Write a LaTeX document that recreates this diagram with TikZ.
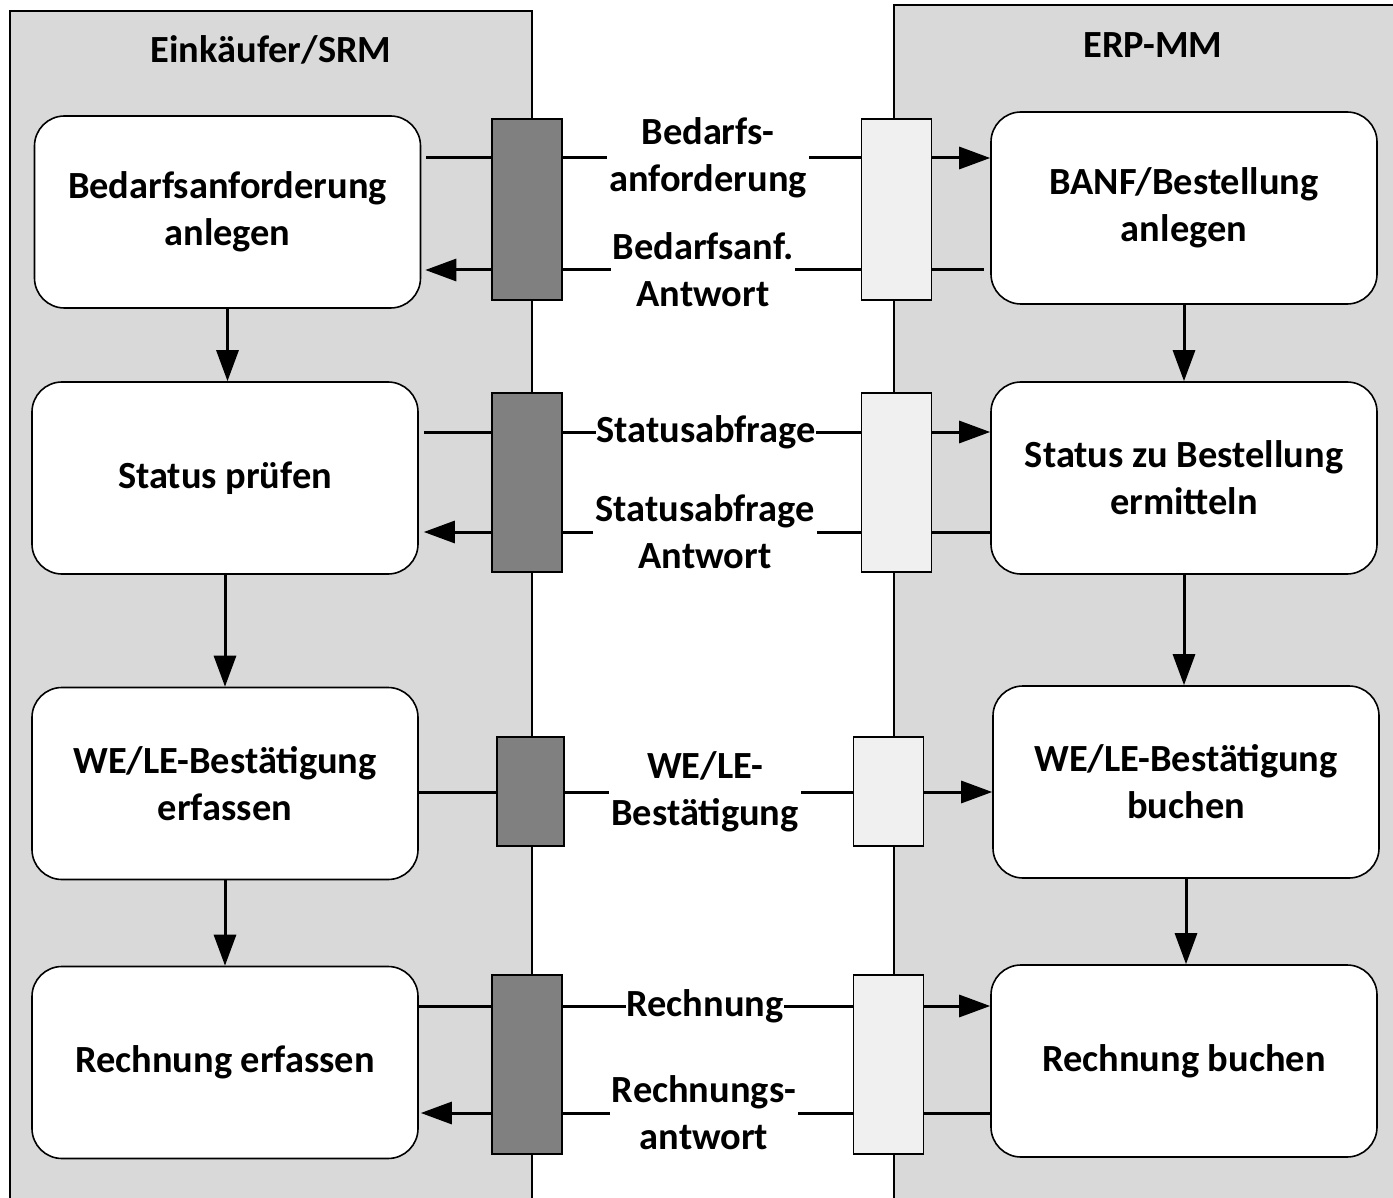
\documentclass[tikz,border=0pt]{standalone}
\usepackage{fontspec}
\setmainfont{Carlito}
\usetikzlibrary{arrows.meta}
\definecolor{lanegray}{HTML}{D9D9D9}
\definecolor{darkbox}{HTML}{808080}
\definecolor{lightbox}{HTML}{F0F0F0}
\begin{document}
\begin{tikzpicture}[x=0.5pt,y=-0.5pt,
  txt/.style={font=\fontsize{19.2}{23.5}\selectfont\bfseries, align=center},
  lane/.style={draw=black, line width=1.2pt, fill=lanegray, inner sep=0pt},
  proc/.style={txt, draw=black, line width=0.8pt, fill=white, rounded corners=15pt, minimum width=193pt, minimum height=96pt, inner sep=0pt},
  port/.style={draw=black, line width=0.8pt, minimum width=35pt, inner sep=0pt},
  dport/.style={port, fill=darkbox},
  lport/.style={port, fill=lightbox},
  msg/.style={txt, fill=white, inner sep=1pt},
  flow/.style={line width=1.5pt, -{Triangle[length=15.5pt,width=11pt]}},
]
\useasboundingbox (0,0) rectangle (1393,1198);
\clip (0,0) rectangle (1393,1198);
% lanes
\node[lane, minimum width=261pt, minimum height=604.5pt] (laneL) at (271,615.5) {};
\node[lane, minimum width=258pt, minimum height=607.5pt] (laneR) at (1152,612.5) {};
\node[txt] (tL) at (271,50) {Einkäufer/SRM};
\node[txt] (tR) at (1153,45) {ERP-MM};
% process boxes
\node[proc] (L1) at (227.5,212) {Bedarfsanforderung\\anlegen};
\node[proc] (L2) at (225,478) {Status prüfen};
\node[proc] (L3) at (225,783.5) {WE/LE-Bestätigung\\erfassen};
\node[proc] (L4) at (225,1062.5) {Rechnung erfassen};
\node[proc] (R1) at (1184,208) {BANF/Bestellung\\anlegen};
\node[proc] (R2) at (1184,478) {Status zu Bestellung\\ermitteln};
\node[proc] (R3) at (1186,782) {WE/LE-Bestätigung\\buchen};
\node[proc] (R4) at (1184,1061) {Rechnung buchen};
% vertical flows
\draw[flow] (L1.south) -- (L1.south |- L2.north);
\draw[flow] (L2.south) -- (L2.south |- L3.north);
\draw[flow] (L3.south) -- (L3.south |- L4.north);
\draw[flow] (R1.south) -- (R1.south |- R2.north);
\draw[flow] (R2.south) -- (R2.south |- R3.north);
\draw[flow] (R3.south) -- (R3.south |- R4.north);
% message rows
\coordinate (m1a) at (708,158);
\coordinate (m1b) at (703,270);
\coordinate (m2a) at (706,432);
\coordinate (m2b) at (705,532);
\coordinate (m3) at (705,792);
\coordinate (m4a) at (705,1006);
\coordinate (m4b) at (704,1113);
\draw[flow, shorten <=2.5pt] (L1.east |- m1a) -- (R1.west |- m1a);
\draw[flow, shorten <=3pt, shorten >=2pt] (R1.west |- m1b) -- (L1.east |- m1b);
\draw[flow, shorten <=2.5pt] (L2.east |- m2a) -- (R2.west |- m2a);
\draw[flow, shorten >=2.5pt] (R2.west |- m2b) -- (L2.east |- m2b);
\draw[flow] (L3.east |- m3) -- (R3.west |- m3);
\draw[flow] (L4.east |- m4a) -- (R4.west |- m4a);
\draw[flow, shorten >=1pt] (R4.west |- m4b) -- (L4.east |- m4b);
% ports
\node[dport, minimum height=90.5pt] (D1) at (527,209.5) {};
\node[dport, minimum height=89.5pt] (D2) at (527,482.5) {};
\node[dport, minimum height=54.5pt, minimum width=33.5pt] (D3) at (530.5,791.5) {};
\node[dport, minimum height=89.5pt] (D4) at (527,1064.5) {};
\node[lport, minimum height=90.5pt] (P1) at (896.5,209.5) {};
\node[lport, minimum height=89.5pt] (P2) at (896.5,482.5) {};
\node[lport, minimum height=54.5pt] (P3) at (888.5,791.5) {};
\node[lport, minimum height=89.5pt] (P4) at (888.5,1064.5) {};
% message labels
\node[msg] (t1a) at (m1a) {Bedarfs-\\anforderung};
\node[msg] (t1b) at (m1b) {Bedarfsanf.\\Antwort};
\node[msg, inner sep=0pt] (t2a) at (m2a) {Statusabfrage};
\node[msg] (t2b) at (m2b) {Statusabfrage\\Antwort};
\node[msg] (t3) at (m3) {WE/LE-\\Bestätigung};
\node[msg, inner sep=0pt] (t4a) at (m4a) {Rechnung};
\node[msg] (t4b) at (m4b) {Rechnungs-\\antwort};
\end{tikzpicture}
\end{document}
